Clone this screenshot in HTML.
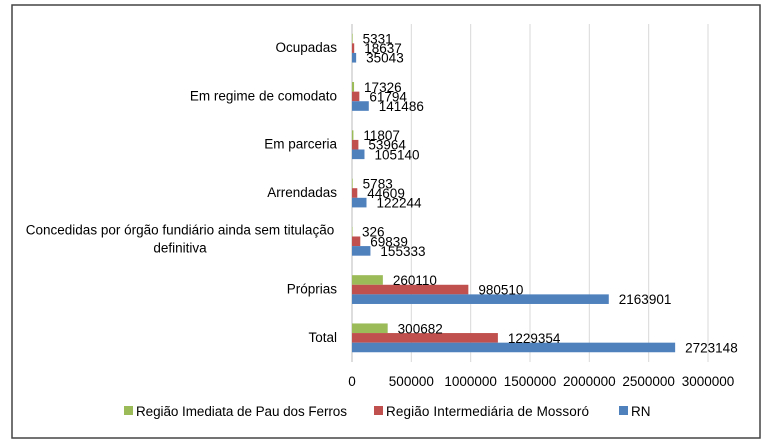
<!DOCTYPE html>
<html><head><meta charset="utf-8"><style>
body{margin:0;background:#fff;}
svg text{font-family:"Liberation Sans",sans-serif;font-size:13.5px;fill:#000;}
</style></head><body>
<svg width="765" height="442">
<rect x="12" y="5" width="748" height="433" fill="#fff" stroke="#444" stroke-width="1.5"/>
<g id="grid"></g><g id="bars"></g><g id="labels"></g><g id="ticks"></g>
<g>
<rect x="124" y="406" width="9" height="9" fill="#9bbb59"/>
<text x="136" y="416" textLength="211">Região Imediata de Pau dos Ferros</text>
<rect x="374" y="406" width="9" height="9" fill="#c0504d"/>
<text x="386" y="416" textLength="203">Região Intermediária de Mossoró</text>
<rect x="619" y="406" width="9" height="9" fill="#4f81bd"/>
<text x="631" y="416">RN</text>
</g>
</svg>
<script>
const categories=["Ocupadas","Em regime de comodato","Em parceria","Arrendadas","Concedidas por órgão fundiário ainda sem titulação|definitiva","Próprias","Total"];
const pau=[5331,17326,11807,5783,326,260110,300682];
const mossoro=[18637,61794,53964,44609,69839,980510,1229354];
const rn=[35043,141486,105140,122244,155333,2163901,2723148];
const ticks=[0,500000,1000000,1500000,2000000,2500000,3000000];
const colors=["#9bbb59","#c0504d","#4f81bd"];
const names=["pau","mossoro","rn"];
const X0=352,X1=708,Y0=24,Y1=362,MAX=3000000;
const sx=v=>X0+(X1-X0)*v/MAX;
const band=(Y1-Y0)/categories.length;
const NS="http://www.w3.org/2000/svg";
function mk(t,a,p){const e=document.createElementNS(NS,t);for(const k in a)e.setAttribute(k,a[k]);document.getElementById(p).appendChild(e);return e;}
ticks.forEach((t,i)=>{
 const l=mk('line',{x1:sx(t),x2:sx(t),y1:Y0,y2:Y1,stroke:i==0?'#bbb':'#d9d9d9','stroke-width':1},'grid');
 
 
 const tx=mk('text',{x:sx(t),y:386,'text-anchor':'middle'},'ticks');tx.textContent=t;
 
 
});
const series=[pau,mossoro,rn];const bh=9.6;
categories.forEach((c,i)=>{
 const cy=Y0+band*(i+0.5);
 const parts=c.split('|');
 parts.forEach((p,j)=>{
  const t=mk('text',{x:parts.length>1?180:337,y:cy+4+(parts.length>1?(j-0.5)*18-2:0),'text-anchor':parts.length>1?'middle':'end'},'labels');
  t.textContent=p;
  
  
 });
 series.forEach((s,k)=>{
  const y=cy-1.5*bh+k*bh;
  const r=mk('rect',{x:X0,y:y,width:Math.max(0.5,sx(s[i])-X0),height:bh,fill:colors[k]},'bars');
  
  
  const t=mk('text',{x:sx(s[i])+10,y:y+bh/2+5},'labels');t.textContent=s[i];
  
  
 });
});
</script>
</body></html>
